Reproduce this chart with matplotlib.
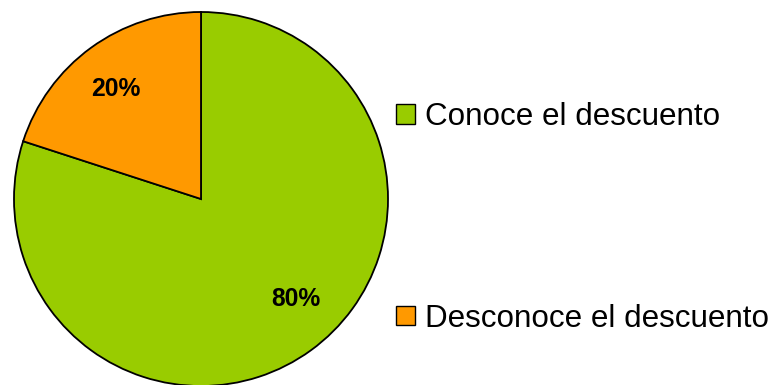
import numpy as np
import matplotlib
matplotlib.use("Agg")
import matplotlib.pyplot as plt
from matplotlib.patches import Patch

labels = ["Conoce el descuento", "Desconoce el descuento"]
values = [80, 20]
colors = ["#99CC00", "#FF9900"]

plt.rcParams['font.family'] = ['Liberation Sans', 'DejaVu Sans']

W, H = 772, 385
fig = plt.figure(figsize=(W / 100, H / 100), dpi=100)

# pie centred at (201, 199) px from top-left, radius 187 px
cx, cy, r = 201, 199, 187
ax = fig.add_axes([(cx - r) / W, (H - cy - r) / H, 2 * r / W, 2 * r / H])
wedges, texts, autotexts = ax.pie(
    values, colors=colors, startangle=90, counterclock=False,
    autopct=lambda p: f"{p:.0f}%", pctdistance=0.74,
    wedgeprops=dict(edgecolor="black", linewidth=1.3),
    textprops=dict(fontsize=17.7, fontweight="bold", color="black"),
)
ax.set_xlim(-1, 1)
ax.set_ylim(-1, 1)
ax.set_aspect("equal")
ax.axis("off")

# percentage labels nudged off the slice bisectors
for t, (dist, deg) in zip(autotexts, [(0.736, -46.6), (0.743, 127.8)]):
    a = np.deg2rad(deg)
    t.set_position((dist * np.cos(a), dist * np.sin(a)))

handles = [Patch(facecolor=c, edgecolor="black", linewidth=1.0) for c in colors]
fs = 22.6
leg = fig.legend(handles, labels, loc="center left",
                 bbox_to_anchor=(396 / W, 1 - 218 / H),
                 frameon=False, fontsize=fs, borderpad=0, borderaxespad=0,
                 handlelength=0.6, handleheight=0.6, handletextpad=0.32,
                 labelspacing=5.45)

fig.savefig("out.png", dpi=100)
